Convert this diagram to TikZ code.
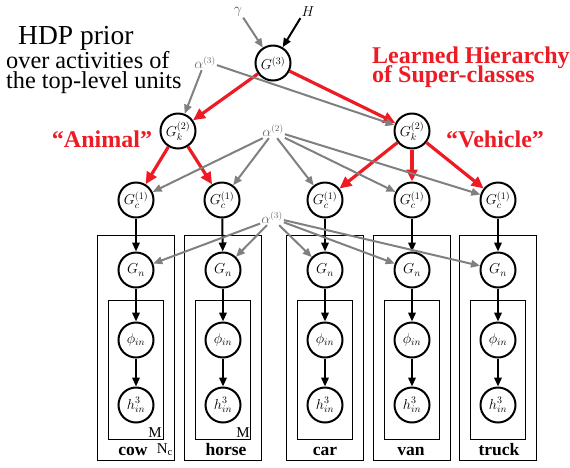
\documentclass[tikz,border=0pt]{standalone}
\usepackage{fontspec}
\setmainfont{Liberation Serif}
\usetikzlibrary{arrows.meta}
\definecolor{hred}{RGB}{237,28,36}
\definecolor{hgray}{RGB}{128,128,128}
\definecolor{lblgray}{RGB}{105,105,105}
\definecolor{gamgray}{RGB}{80,80,80}
\begin{document}
\begin{tikzpicture}[x=1pt,y=-1pt,
  circ/.style={circle, draw, fill=white, line width=2pt, minimum size=35pt, inner sep=0pt, font=\fontsize{14.5}{16}\selectfont},
  lbl/.style={text=lblgray, font=\fontsize{13.5}{15}\selectfont, inner sep=1pt},
  redarr/.style={draw=hred, line width=3.2pt, -{Triangle[length=12pt,width=11pt]}},
  grayarr/.style={draw=hgray, line width=2pt, -{Triangle[length=9pt,width=7.5pt]}},
  blackarr/.style={draw=black, line width=2pt, -{Triangle[length=9pt,width=7.5pt]}},
  outerplate/.style={draw, line width=1pt, minimum width=77pt, minimum height=225pt, inner sep=0pt},
  innerplate/.style={draw, line width=1pt, minimum width=55pt, minimum height=139pt, inner sep=0pt},
  platelbl/.style={font=\fontsize{17.5}{18}\selectfont\bfseries, anchor=base, inner sep=0pt},
  redtxt/.style={text=hred, font=\fontsize{24}{19}\selectfont\bfseries, inner sep=0pt},
  blacktxt/.style={font=\fontsize{24.3}{21}\selectfont, inner sep=0pt, anchor=base west}
]
\useasboundingbox (0,0) rectangle (570,467);

% plates
\foreach \n/\x in {cow/136,horse/223,car/325,van/412,truck/498}{
  \node[outerplate] (po\n) at (\x,347.5) {};
  \node[innerplate] (pi\n) at (\x,369.5) {};
}
\node[platelbl] (lcow) at (133,455) {cow};
\node[platelbl] (lhorse) at (226,455) {horse};
\node[platelbl] (lcar) at (325,455) {car};
\node[platelbl] (lvan) at (411,455) {van};
\node[platelbl] (ltruck) at (499,455) {truck};
\node[font=\fontsize{15}{16}\selectfont, anchor=base east, inner sep=0pt] (mcow) at (162,437) {M};
\node[font=\fontsize{15}{16}\selectfont, anchor=base east, inner sep=0pt] (mhorse) at (250,437) {M};
\node[font=\fontsize{15}{16}\selectfont, anchor=base east, inner sep=0pt] (nc) at (173,453) {N\textsubscript{c}};

% texts
\node[blacktxt, font=\fontsize{27.5}{30}\selectfont] (t1) at (18,44) {HDP prior};
\node[blacktxt] (t2) at (6,68) {over activities of};
\node[blacktxt] (t3) at (6,88) {the top-level units};
\node[redtxt, anchor=base west] (r1) at (372,63) {Learned Hierarchy};
\node[redtxt, anchor=base west] (r2) at (372,82) {of Super-classes};
\node[redtxt, anchor=base] (animal) at (102,147) {``Animal''};
\node[redtxt, anchor=base] (vehicle) at (495,147) {``Vehicle''};

% labels
\node[lbl, text=gamgray] (gam) at (238,12) {$\gamma$};
\node[font=\fontsize{15}{16}\selectfont, inner sep=1pt] (H) at (308,12) {$H$};
\node[lbl] (a3t) at (205,63) {$\alpha^{(3)}$};
\node[lbl] (a2) at (273,131) {$\alpha^{(2)}$};
\node[lbl] (a3m) at (272,218) {$\alpha^{(3)}$};

% nodes
\node[circ] (g3) at (273,63) {$G^{(3)}$};
\node[circ] (g2a) at (178,131) {$G^{(2)}_k$};
\node[circ] (g2b) at (412,131) {$G^{(2)}_k$};
\foreach \n/\x in {cow/136,horse/222,car/325,van/412,truck/498}{
  \node[circ] (g1\n) at (\x,200) {$G^{(1)}_c$};
}
\foreach \n/\x in {cow/136,horse/223,car/325,van/412,truck/498}{
  \node[circ] (gn\n) at (\x,270) {$G_n$};
  \node[circ] (ph\n) at (\x,340) {$\phi_{in}$};
  \node[circ] (h\n) at (\x,405) {$h^3_{in}$};
}

% arrows into G(3)
\draw[grayarr] (gam.south east) -- (g3);
\draw[blackarr] (H.south west) -- (g3);
\foreach \n in {cow,horse,car,van,truck}{
  \draw[blackarr] (g1\n) -- (gn\n);
  \draw[blackarr] (gn\n) -- (ph\n);
  \draw[blackarr] (ph\n) -- (h\n);
}

% red arrows
\draw[redarr] (g3) -- (g2a);
\draw[redarr] (g3) -- (g2b);
\draw[redarr] (g2a) -- (g1cow);
\draw[redarr] (g2a) -- (g1horse);
\draw[redarr] (g2b) -- (g1car);
\draw[redarr] (g2b) -- (g1van);
\draw[redarr] (g2b) -- (g1truck);

% gray arrows
\draw[grayarr] (a3t.245) -- (g2a);
\draw[grayarr] (a3t.350) -- (g2b);
\draw[grayarr] (a2.215) -- (g1cow);
\draw[grayarr] (a2.240) -- (g1horse);
\draw[grayarr] (a2.300) -- (g1car);
\draw[grayarr] (a2.330) -- (g1van);
\draw[grayarr] (a2.345) -- (g1truck);
\draw[grayarr] (a3m.205) -- (gncow);
\draw[grayarr] (a3m.235) -- (gnhorse);
\draw[grayarr] (a3m.315) -- (gncar);
\draw[grayarr] (a3m.340) -- (gnvan);
\draw[grayarr] (a3m.350) -- (gntruck);
\end{tikzpicture}
\end{document}
